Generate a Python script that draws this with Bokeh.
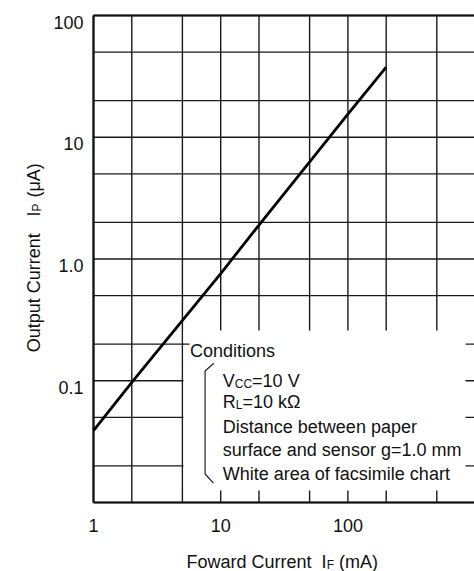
import math
from bokeh.plotting import figure
from bokeh.models import Range1d, Label
from bokeh.embed import file_html
from bokeh.resources import INLINE

# ---------------- data ----------------
forward_current_mA = [1, 2, 10, 20, 100, 200]
output_current_uA = [0.039, 0.097, 0.76, 1.9, 15.5, 37.6]

x_grid_values = [1, 2, 5, 10, 20, 50, 100, 200, 500, 1000]
y_grid_values = [0.01, 0.02, 0.05, 0.1, 0.2, 0.5, 1, 2, 5, 10, 20, 50, 100]

x_tick_values = [1, 10, 100]
x_tick_labels = ["1", "10", "100"]
y_tick_values = [0.1, 1, 10, 100]
y_tick_labels = ["0.1", "1.0", "10", "100"]

condition_lines = ["Distance between paper",
                   "surface and sensor g=1.0 mm",
                   "White area of facsimile chart"]

# ---------------- layout ----------------
FONT = "Liberation Sans"
FS = "18px"
SUB = "12px"
CW, CH = 474, 571                       # canvas size
L, T, H = 93, 15, 487                   # chart area (px): left, top, height
DX = 127.2                              # px per decade (x)
DY = H / 4.0                            # px per decade (y)
X_MIN, Y_MIN = x_grid_values[0], y_grid_values[0]
X_MAX, Y_MAX = x_grid_values[-1], y_grid_values[-1]


def X(px):
    return X_MIN * 10 ** ((px - L) / DX)


def Y(py):
    return Y_MIN * 10 ** ((T + H - py) / DY)


p = figure(x_axis_type="log", y_axis_type="log",
           x_range=Range1d(X(0), X(CW)), y_range=Range1d(Y(CH), Y(0)),
           width=CW, height=CH,
           min_border_left=0, min_border_right=0,
           min_border_top=0, min_border_bottom=0,
           x_axis_location=None, y_axis_location=None,
           output_backend="svg", toolbar_location=None)
p.outline_line_color = None
p.grid.visible = False
p.background_fill_color = "white"
p.border_fill_color = "white"

GRID = "#1a1a1a"
# grid lines
p.segment(x0=x_grid_values, x1=x_grid_values,
          y0=[Y_MIN] * len(x_grid_values), y1=[Y_MAX] * len(x_grid_values),
          line_color=GRID, line_width=1.4)
p.segment(x0=[X_MIN] * len(y_grid_values), x1=[X_MAX] * len(y_grid_values),
          y0=y_grid_values, y1=y_grid_values,
          line_color=GRID, line_width=1.4)

# white box behind conditions
p.quad(left=[X(183)], right=[X(465)], top=[Y(330)], bottom=[Y(490)],
       fill_color="white", line_color=None)

# frame lines (left, bottom, top)
p.segment(x0=[X_MIN, X_MIN, X_MIN], x1=[X_MIN, X_MAX, X_MAX],
          y0=[Y_MIN, Y_MIN, Y_MAX], y1=[Y_MAX, Y_MIN, Y_MAX],
          line_color="#111111", line_width=2.2)

# data line
p.line(forward_current_mA, output_current_uA, line_width=2.8, line_color="black")

# leader line to "Conditions" and bracket
p.segment(x0=[5], y0=[0.2], x1=[X(189)], y1=[0.2],
          line_color=GRID, line_width=1.4)
p.line([X(213.3), X(204.6), X(204.6), X(213.0)],
       [Y(362.7), Y(370.5), Y(473.5), Y(482.7)],
       line_color="#222222", line_width=1.2)

# tick labels
p.text(x=x_tick_values, y=[Y_MIN] * len(x_tick_values), text=x_tick_labels,
       text_font={"value": FONT}, text_font_size=FS, text_color="#111111",
       text_align="center", text_baseline="alphabetic", y_offset=23)
p.text(x=[X_MIN] * len(y_tick_values), y=y_tick_values, text=y_tick_labels,
       text_font={"value": FONT}, text_font_size=FS, text_color="#111111",
       text_align="right", text_baseline="alphabetic", x_offset=-10, y_offset=6.5)


def lab(px, py, text, size=FS, angle=0.0):
    p.add_layout(Label(x=X(px), y=Y(py), text=text, text_font=FONT,
                       text_font_size=size, text_color="#111111",
                       text_align="left", text_baseline="alphabetic",
                       angle=angle))


lab(189.5, 350.7, "Conditions")
lab(222.3, 380.0, "V")
lab(234.3, 383.0, "CC", SUB)
lab(251.6, 380.0, "=10 V")
lab(222.3, 401.7, "R")
lab(235.3, 404.7, "L", SUB)
lab(242.0, 401.7, "=10 kΩ")
for i, t in enumerate(condition_lines):
    lab(222.3, [426.0, 449.3, 473.3][i], t)

# x axis label
lab(186.0, 561.5, "Foward Current")
lab(321.0, 561.5, "I")
lab(326.3, 564.5, "F", SUB)
lab(338.6, 561.5, "(mA)")

# y axis label (rotated)
A = math.pi / 2
lab(33.3, 351.7, "Output Current", angle=A)
lab(33.3, 216.0, "I", angle=A)
lab(36.3, 211.0, "P", SUB, angle=A)
lab(33.3, 197.0, "(μA)", angle=A)

open("out.html", "w").write(file_html(p, INLINE))
